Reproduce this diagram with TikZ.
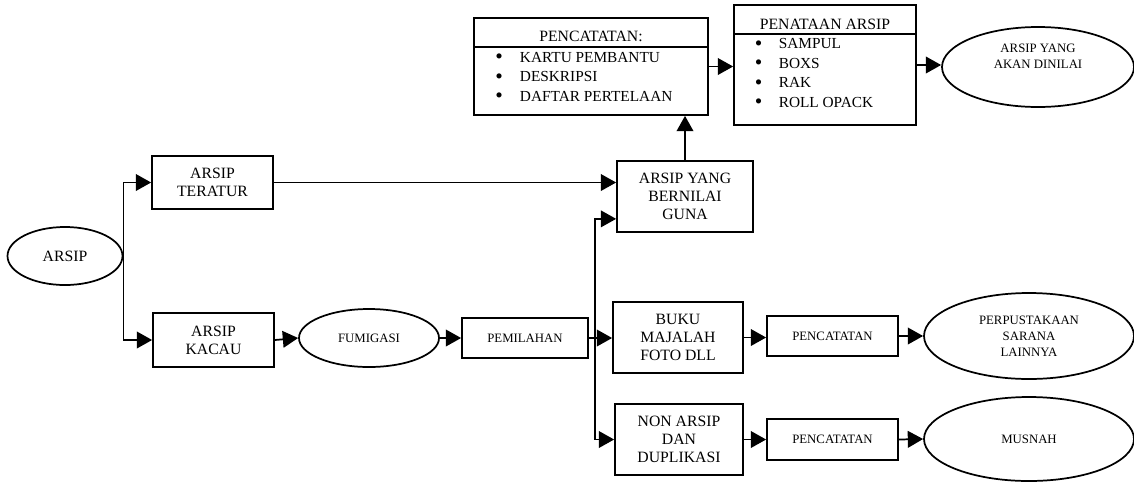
\documentclass[tikz,border=0pt]{standalone}
\usepackage{fontspec}
\setmainfont{Liberation Serif}
\usetikzlibrary{arrows.meta,shapes.geometric}
\newcommand\bigbul{\smash{\raisebox{-0.2ex}{\scalebox{1.4}{\textbullet}}}}
\begin{document}
\begin{tikzpicture}[x=0.75pt,y=-0.75pt,
  line width=1.3pt,
  big/.style={font=\fontsize{11.8}{13.5}\selectfont},
  small/.style={font=\fontsize{9.6}{12}\selectfont},
  listfont/.style={font=\fontsize{11.5}{14.6}\selectfont},
  box/.style={draw, rectangle, inner sep=0pt, align=center},
  oval/.style={draw, ellipse, inner sep=0pt, align=center},
  arr/.style={-{Triangle[length=11.5pt,width=12.5pt]}},
]
\useasboundingbox (0,0) rectangle (1134,483);

% nodes
\node[oval, big, minimum width=86.25pt, minimum height=43.5pt] (arsip) at (65,256) {ARSIP};
\node[box, big, minimum width=90.75pt, minimum height=39.75pt] (teratur) at (212.5,182.5) {ARSIP\\TERATUR};
\node[box, big, minimum width=90.75pt, minimum height=40.5pt] (kacau) at (213.5,340) {ARSIP\\KACAU};
\node[oval, small, minimum width=105pt, minimum height=43.5pt] (fumigasi) at (369,338) {FUMIGASI};
\node[box, small, minimum width=94.5pt, minimum height=30pt] (pemilahan) at (525,338) {PEMILAHAN};
\node[box, big, minimum width=102pt, minimum height=53.25pt] (guna) at (685,196.5) {ARSIP YANG\\BERNILAI\\GUNA};
\node[box, big, minimum width=97.5pt, minimum height=53.25pt] (buku) at (678,337.5) {BUKU\\MAJALAH\\FOTO DLL};
\node[box, big, minimum width=96pt, minimum height=53.25pt] (nonarsip) at (679,439.5) {NON ARSIP\\DAN\\DUPLIKASI};
\node[box, small, minimum width=98.25pt, minimum height=30pt] (pc1) at (832.5,336) {PENCATATAN};
\node[box, small, minimum width=98.25pt, minimum height=30.75pt] (pc2) at (832.5,439.5) {PENCATATAN};
\node[oval, small, minimum width=157.5pt, minimum height=64.5pt] (perpus) at (1029,336) {PERPUSTAKAAN\\SARANA\\LAINNYA};
\node[oval, small, minimum width=157.5pt, minimum height=63pt] (musnah) at (1029,439) {MUSNAH};

% list boxes
\node[box, minimum width=175.5pt, minimum height=72.75pt] (pencat) at (591,66.5) {};
\draw (pencat.west |- 0,47) -- (pencat.east |- 0,47);
\node[big, inner sep=0pt] (pencathead) at (591,36) {PENCATATAN:};
\node[listfont, inner sep=0pt, anchor=west] (pencatlist) at (494.5,78) {\begin{tabular}{@{}l@{\hspace{12.8pt}}l@{}}
\bigbul & KARTU PEMBANTU\\
\bigbul & DESKRIPSI\\
\bigbul & DAFTAR PERTELAAN
\end{tabular}};

\node[box, minimum width=136.5pt, minimum height=90pt] (penataan) at (825,65) {};
\draw (penataan.west |- 0,34) -- (penataan.east |- 0,34);
\node[big, inner sep=0pt] (penataanhead) at (825,24) {PENATAAN ARSIP};
\node[listfont, inner sep=0pt, anchor=west] (penataanlist) at (754,74) {\begin{tabular}{@{}l@{\hspace{12.3pt}}l@{}}
\bigbul & SAMPUL\\
\bigbul & BOXS\\
\bigbul & RAK\\
\bigbul & ROLL OPACK
\end{tabular}};

\node[oval, minimum width=144pt, minimum height=60pt] (dinilai) at (1038,67) {};
\node[small, align=center, inner sep=0pt] (dinilaitxt) at (1038,56) {ARSIP YANG\\AKAN DINILAI};

% connectors
\coordinate (split) at (595,338);
\draw[arr] (arsip.east) |- (teratur.west);
\draw[arr] (arsip.east) |- (kacau.west);
\draw[arr] (kacau.east) -- (fumigasi.west);
\draw[arr] (fumigasi.east) -- (pemilahan.west);
\draw[arr] (pemilahan.east) -- (pemilahan.east -| buku.west);
\draw[arr] (split) |- ([yshift=10.5pt]guna.south west);
\draw[arr] (split) |- (nonarsip.west);
\draw[arr] (teratur.east) -- (teratur.east -| guna.west);
\draw[arr] (guna.north) -- (guna.north |- pencat.south);
\draw[arr] (pencat.east) -- (pencat.east -| penataan.west);
\draw[arr] (penataan.east) -- (penataan.east -| dinilai.west);
\draw[arr] (buku.east) -- (buku.east -| pc1.west);
\draw[arr] (pc1.east) -- (perpus.west);
\draw[arr] (nonarsip.east) -- (nonarsip.east -| pc2.west);
\draw[arr] (pc2.east) -- (musnah.west);
\end{tikzpicture}
\end{document}
